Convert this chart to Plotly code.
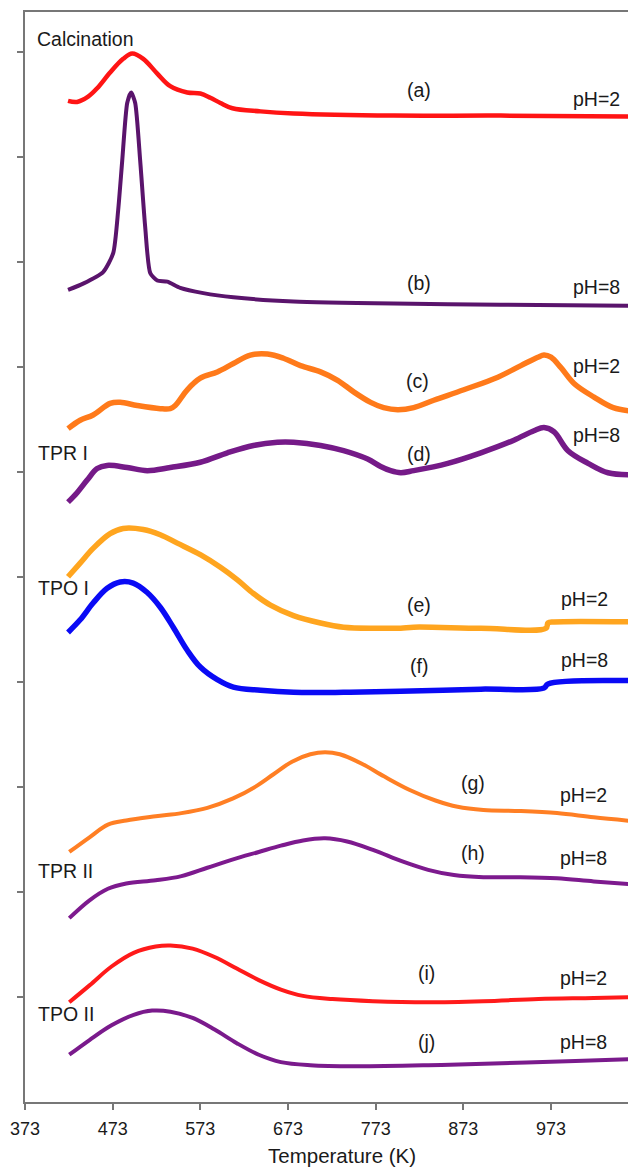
import plotly.graph_objects as go

# ---------------- data (temperature in K, signal in arbitrary offset units) ----------------
T_a = [422.1, 432.4, 445.0, 455.3, 470.1, 485.0, 495.3, 507.9, 523.9, 538.7, 558.1, 573.0, 584.4, 595.9, 609.6, 641.6, 679.3, 793.6, 915.9, 1071.3]
V_a = [9.53, 9.52, 9.57, 9.65, 9.80, 9.93, 9.98, 9.93, 9.79, 9.67, 9.61, 9.60, 9.56, 9.51, 9.46, 9.43, 9.41, 9.39, 9.39, 9.38]

T_b = [422.1, 439.3, 462.1, 473.6, 479.3, 483.9, 489.6, 494.1, 498.7, 504.4, 510.1, 515.9, 523.9, 535.3, 550.1, 576.4, 610.7, 679.3, 793.6, 915.9, 1071.3]
V_b = [7.73, 7.79, 7.90, 8.08, 8.49, 8.96, 9.51, 9.61, 9.51, 8.96, 8.33, 7.89, 7.82, 7.81, 7.75, 7.70, 7.66, 7.62, 7.60, 7.59, 7.58]

T_c = [422.1, 435.9, 450.7, 470.1, 481.6, 501.0, 527.3, 538.7, 544.4, 558.1, 573.0, 592.4, 610.7, 630.1, 649.6, 667.9, 687.3, 710.1, 729.6, 747.9, 767.3, 782.1, 798.1, 816.4, 839.3, 873.6, 912.4, 938.7, 958.1, 965.0, 973.0, 984.4, 999.3, 1022.1, 1044.0, 1071.3]
V_c = [6.41, 6.49, 6.54, 6.65, 6.66, 6.63, 6.60, 6.60, 6.63, 6.78, 6.89, 6.95, 7.03, 7.11, 7.12, 7.08, 7.01, 6.95, 6.87, 6.76, 6.66, 6.61, 6.59, 6.61, 6.68, 6.78, 6.90, 7.01, 7.09, 7.11, 7.09, 6.99, 6.84, 6.71, 6.61, 6.57]

T_d = [422.1, 432.4, 443.9, 455.3, 466.7, 489.6, 512.4, 538.7, 573.0, 603.9, 633.6, 661.0, 679.3, 710.1, 736.4, 763.9, 778.7, 790.1, 801.6, 816.4, 855.3, 893.0, 930.7, 953.6, 965.0, 976.4, 992.4, 1015.3, 1038.1, 1071.3]
V_d = [5.71, 5.80, 5.92, 6.03, 6.06, 6.04, 6.01, 6.04, 6.09, 6.18, 6.25, 6.28, 6.28, 6.25, 6.20, 6.12, 6.05, 6.01, 5.99, 6.01, 6.08, 6.18, 6.30, 6.39, 6.42, 6.38, 6.20, 6.08, 5.99, 5.97]

T_e = [422.1, 435.9, 450.7, 470.1, 485.0, 507.9, 527.3, 546.7, 573.0, 595.9, 615.3, 633.6, 653.0, 679.3, 710.1, 736.4, 775.3, 801.6, 816.4, 893.0, 967.3, 969.6, 976.4, 1071.3]
V_e = [5.00, 5.13, 5.27, 5.41, 5.46, 5.45, 5.40, 5.32, 5.21, 5.09, 4.97, 4.84, 4.73, 4.63, 4.56, 4.52, 4.51, 4.51, 4.52, 4.51, 4.51, 4.56, 4.57, 4.57]

T_f = [422.1, 435.9, 450.7, 466.7, 481.6, 496.4, 512.4, 527.3, 542.1, 558.1, 573.0, 592.4, 610.7, 641.6, 679.3, 736.4, 801.6, 893.0, 965.0, 969.6, 1071.3]
V_f = [4.47, 4.59, 4.75, 4.89, 4.95, 4.94, 4.85, 4.71, 4.52, 4.30, 4.14, 4.02, 3.95, 3.92, 3.90, 3.90, 3.91, 3.93, 3.94, 3.98, 4.01]

T_g = [423.5, 446.6, 467.6, 488.5, 522.1, 551.5, 581.0, 610.4, 635.5, 656.5, 677.6, 698.5, 715.3, 732.1, 757.3, 782.5, 811.9, 841.2, 866.5, 895.9, 937.8, 979.9, 1021.8, 1071.3]
V_g = [2.38, 2.52, 2.64, 2.68, 2.72, 2.75, 2.80, 2.89, 3.00, 3.12, 3.24, 3.31, 3.33, 3.31, 3.22, 3.10, 2.97, 2.87, 2.81, 2.78, 2.77, 2.75, 2.71, 2.67]

T_h = [423.5, 446.6, 467.6, 488.5, 522.1, 551.5, 581.0, 610.4, 639.7, 664.9, 690.1, 715.3, 740.5, 769.9, 803.5, 832.9, 862.3, 895.9, 937.8, 979.9, 1021.8, 1071.3]
V_h = [1.75, 1.92, 2.03, 2.08, 2.11, 2.15, 2.23, 2.31, 2.38, 2.44, 2.49, 2.51, 2.48, 2.40, 2.29, 2.21, 2.16, 2.14, 2.14, 2.13, 2.10, 2.07]

T_i = [423.5, 446.6, 471.7, 497.0, 522.1, 538.9, 564.2, 589.3, 614.6, 639.7, 664.9, 690.1, 723.7, 769.9, 832.9, 895.9, 958.8, 1021.8, 1071.3]
V_i = [0.95, 1.11, 1.29, 1.42, 1.48, 1.49, 1.46, 1.38, 1.27, 1.16, 1.07, 1.01, 0.98, 0.96, 0.95, 0.96, 0.98, 0.99, 1.00]

T_j = [423.5, 446.6, 471.7, 497.0, 518.0, 538.9, 564.2, 589.3, 614.6, 639.7, 664.9, 698.5, 748.9, 832.9, 916.9, 1000.9, 1071.3]
V_j = [0.45, 0.59, 0.73, 0.83, 0.87, 0.86, 0.80, 0.69, 0.56, 0.45, 0.38, 0.35, 0.34, 0.35, 0.37, 0.39, 0.41]

x_ticks = [373, 473, 573, 673, 773, 873, 973]
y_ticks = [1, 2, 3, 4, 5, 6, 7, 8, 9, 10]

# (name, x, y, colour, width, smoothing)
series = [
    ("a", T_a, V_a, "#ff1414", 4.5, 1.0),
    ("b", T_b, V_b, "#5a146c", 4, 0.6),
    ("c", T_c, V_c, "#ff7a1a", 5.5, 1.0),
    ("d", T_d, V_d, "#751a88", 5.5, 1.0),
    ("e", T_e, V_e, "#ffa51f", 5.5, 1.0),
    ("f", T_f, V_f, "#0a0af5", 5.5, 1.0),
    ("g", T_g, V_g, "#ff7f24", 4, 1.0),
    ("h", T_h, V_h, "#7d1a8e", 4, 1.0),
    ("i", T_i, V_i, "#ff1a1a", 4, 1.0),
    ("j", T_j, V_j, "#7a1a8c", 4, 1.0),
]

fig = go.Figure()
for name, xs, ys, col, w, sm in series:
    fig.add_trace(go.Scatter(x=xs, y=ys, mode="lines", name=name,
                             line=dict(color=col, width=w, shape="spline", smoothing=sm),
                             showlegend=False))

FONT = "Liberation Sans, Arial, Helvetica, sans-serif"

# labels: (text, T, value, anchor)
labels = [
    ("Calcination", 384.0, 10.12, "left"),
    ("(a)", 822.4, 9.63, "center"), ("pH=2", 1025.4, 9.55, "center"),
    ("(b)", 822.4, 7.80, "center"), ("pH=8", 1025.4, 7.76, "center"),
    ("(c)", 821.3, 6.86, "center"), ("pH=2", 1025.4, 7.01, "center"),
    ("(d)", 822.4, 6.17, "center"), ("pH=8", 1025.4, 6.35, "center"),
    ("TPR I", 386.0, 6.18, "left"),
    ("(e)", 822.4, 4.73, "center"), ("pH=2", 1011.8, 4.79, "center"),
    ("TPO I", 386.0, 4.89, "left"),
    ("(f)", 822.4, 4.15, "center"), ("pH=8", 1011.8, 4.21, "center"),
    ("(g)", 884.0, 3.04, "center"), ("pH=2", 1010.6, 2.92, "center"),
    ("(h)", 884.0, 2.37, "center"), ("pH=8", 1010.6, 2.32, "center"),
    ("TPR II", 386.0, 2.20, "left"),
    ("(i)", 831.5, 1.23, "center"), ("pH=2", 1010.6, 1.18, "center"),
    ("(j)", 831.5, 0.57, "center"), ("pH=8", 1010.6, 0.57, "center"),
    ("TPO II", 386.0, 0.84, "left"),
]
for txt, x, y, anc in labels:
    fig.add_annotation(x=x, y=y, xref="x", yref="y", text=txt, showarrow=False,
                       xanchor=anc, yanchor="middle",
                       font=dict(family=FONT, size=19.5, color="#1a1a1a"))

fig.add_annotation(x=0.519, y=-0.0495, xref="paper", yref="paper", text="Temperature (K)",
                   showarrow=False, xanchor="center", yanchor="middle",
                   font=dict(family=FONT, size=20.5, color="#1a1a1a"))

# the page places the figure 8 px from the top-left corner, so the figure is 8 px smaller
fig.update_layout(
    width=628, height=1160,
    margin=dict(l=17, r=0, t=3.5, b=66),
    paper_bgcolor="white", plot_bgcolor="white",
    font=dict(family=FONT, size=18, color="#1a1a1a"),
    xaxis=dict(range=[373, 1070], tickvals=x_ticks, ticktext=[str(v) for v in x_ticks],
               ticks="outside", ticklen=6, tickwidth=1.5, tickcolor="#777777",
               showline=True, linecolor="#777777", linewidth=1.5, mirror=True,
               showgrid=False, zeroline=False, ticklabelstandoff=4,
               tickfont=dict(family=FONT, size=18, color="#1a1a1a")),
    yaxis=dict(range=[0, 10.376], tickvals=y_ticks, showticklabels=False,
               ticks="outside", ticklen=6, tickwidth=1.5, tickcolor="#777777",
               showline=True, linecolor="#777777", linewidth=1.5,
               showgrid=False, zeroline=False),
)

fig.write_html("out.html")
